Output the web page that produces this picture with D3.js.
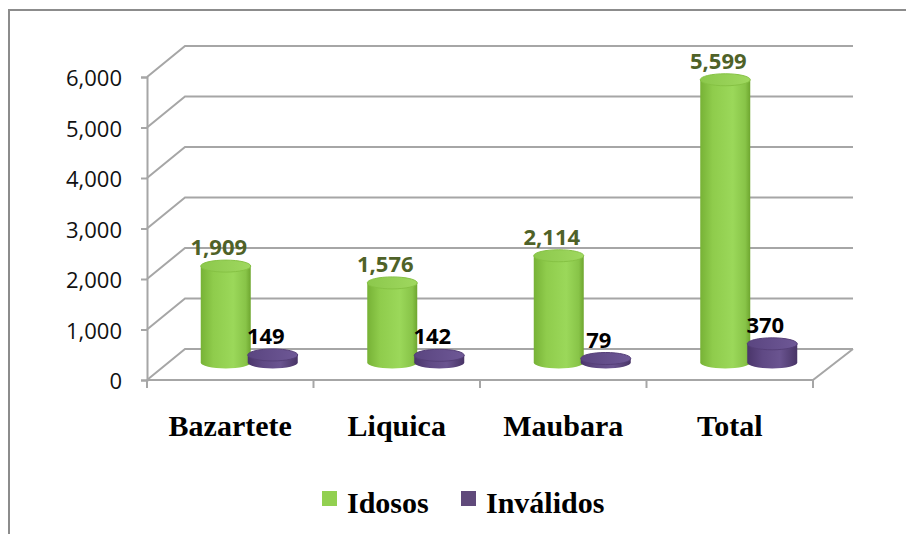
<!DOCTYPE html>
<html>
<head>
<meta charset="utf-8">
<script src="https://cdn.jsdelivr.net/npm/d3@7"></script>
<style>
  body { margin: 0; background: #fff; }
  svg { display: block; }
</style>
</head>
<body>
<div id="chart"></div>
<script>
// chart data
const categories = ["Bazartete", "Liquica", "Maubara", "Total"];
const series = ["Idosos", "Inválidos"];
const idosos = [1909, 1576, 2114, 5599];
const invalidos = [149, 142, 79, 370];
const yTicks = [0, 1000, 2000, 3000, 4000, 5000, 6000];

const width = 906;
const height = 534;
const plot = { left: 147, right: 813, top: 77, bottom: 380 };
const depth = { dx: 38, dy: 31 };   // offset of the back wall
const rx = 25, ry = 6;
const gridColor = "#a6a6a6";

const svg = d3.select("#chart").append("svg")
  .attr("width", width)
  .attr("height", height);

const defs = svg.append("defs");
function gradient(id, stops) {
  const g = defs.append("linearGradient").attr("id", id)
    .attr("x1", "0%").attr("x2", "100%").attr("y1", "0%").attr("y2", "0%");
  stops.forEach(s => g.append("stop").attr("offset", s[0]).attr("stop-color", s[1]));
}
gradient("greenBody", [["0%", "#77b236"], ["25%", "#8fcc4c"], ["65%", "#9bd85a"], ["90%", "#88c448"], ["100%", "#6ea62f"]]);
gradient("greenTop", [["0%", "#8cc84c"], ["100%", "#9fd85f"]]);
gradient("purpleBody", [["0%", "#4a356a"], ["30%", "#5f4984"], ["65%", "#6a5490"], ["100%", "#483466"]]);
gradient("purpleTop", [["0%", "#5a4580"], ["100%", "#6e5896"]]);

// outer border
svg.append("path")
  .attr("d", "M9,534 L9,10 L906,10")
  .attr("fill", "none")
  .attr("stroke", "#8c8c8c")
  .attr("stroke-width", 2);

const y = d3.scaleLinear()
  .domain([0, 6000])
  .range([plot.bottom, plot.top]);

const x = d3.scaleBand()
  .domain(categories)
  .range([plot.left, plot.right]);

const bw = x.bandwidth();
const xs = d3.scaleBand()
  .domain(series)
  .range([bw / 2 - 47, bw / 2 + 47]);

// gridlines on side and back walls
svg.append("g").selectAll("path")
  .data(yTicks)
  .join("path")
  .attr("d", d => `M${plot.left},${y(d)} L${plot.left + depth.dx},${y(d) - depth.dy} L${plot.right + depth.dx + 2},${y(d) - depth.dy}`)
  .attr("fill", "none")
  .attr("stroke", gridColor)
  .attr("stroke-width", 2);

// floor front and right edges
svg.append("path")
  .attr("d", `M${plot.left},${plot.bottom} L${plot.right},${plot.bottom} L${plot.right + depth.dx + 2},${plot.bottom - depth.dy}`)
  .attr("fill", "none")
  .attr("stroke", gridColor)
  .attr("stroke-width", 2);

// y axis
const yAxis = svg.append("g")
  .attr("transform", `translate(${plot.left},0)`)
  .call(d3.axisLeft(y).tickValues(yTicks).tickFormat(d3.format(",")).tickSize(6).tickPadding(19));
yAxis.select(".domain").attr("stroke", gridColor).attr("stroke-width", 2);
yAxis.selectAll(".tick line").attr("stroke", gridColor).attr("stroke-width", 2);
yAxis.selectAll(".tick text")
  .attr("font-family", "'Open Sans', sans-serif")
  .attr("font-size", 22)
  .attr("fill", "#111")
  .attr("dy", "0.4em");

// x axis ticks at category boundaries
const bounds = categories.map(c => x(c)).concat([plot.right]);
svg.append("g").selectAll("line")
  .data(bounds)
  .join("line")
  .attr("x1", d => d).attr("x2", d => d)
  .attr("y1", plot.bottom).attr("y2", plot.bottom + 8)
  .attr("stroke", gridColor)
  .attr("stroke-width", 2);

// category labels
svg.append("g").selectAll("text")
  .data(categories)
  .join("text")
  .attr("x", d => x(d) + bw / 2)
  .attr("y", 436)
  .attr("text-anchor", "middle")
  .attr("font-family", "'Liberation Serif', 'Times New Roman', serif")
  .attr("font-weight", "bold")
  .attr("font-size", 30)
  .text(d => d);

// cylinders, placed half way into the depth
const bars = [];
categories.forEach((c, i) => {
  bars.push({ cat: c, s: series[0], v: idosos[i] });
  bars.push({ cat: c, s: series[1], v: invalidos[i] });
});
const baseY = plot.bottom - depth.dy / 2 - 2;
const cx = d => x(d.cat) + xs(d.s) + xs.bandwidth() / 2 + depth.dx / 2;
const topY = d => baseY - (y(0) - y(d.v));

const g = svg.append("g");
g.selectAll("path.body")
  .data(bars)
  .join("path")
  .attr("class", "body")
  .attr("d", d => `M${cx(d) - rx},${topY(d)} L${cx(d) - rx},${baseY} A${rx},${ry} 0 0 0 ${cx(d) + rx},${baseY} L${cx(d) + rx},${topY(d)} Z`)
  .attr("fill", d => d.s === series[0] ? "url(#greenBody)" : "url(#purpleBody)");

g.selectAll("ellipse.top")
  .data(bars)
  .join("ellipse")
  .attr("class", "top")
  .attr("cx", cx)
  .attr("cy", topY)
  .attr("rx", rx)
  .attr("ry", ry)
  .attr("fill", d => d.s === series[0] ? "url(#greenTop)" : "url(#purpleTop)")
  .attr("stroke", d => d.s === series[0] ? "#86c244" : "#553f78")
  .attr("stroke-width", 1);

// value labels
svg.append("g").selectAll("text")
  .data(bars)
  .join("text")
  .attr("x", d => cx(d) - 7)
  .attr("y", d => topY(d) - ry - 5)
  .attr("text-anchor", "middle")
  .attr("font-family", "'Open Sans', sans-serif")
  .attr("font-weight", "bold")
  .attr("font-size", 22)
  .attr("fill", d => d.s === series[0] ? "#4f6228" : "#000")
  .text(d => d3.format(",")(d.v));

// legend
const legendX = [322, 461];
const legend = svg.append("g").selectAll("g")
  .data(series)
  .join("g")
  .attr("transform", (d, i) => `translate(${legendX[i]},491)`);
legend.append("rect")
  .attr("width", 15)
  .attr("height", 15)
  .attr("fill", (d, i) => i === 0 ? "#92d050" : "#604a7b");
legend.append("text")
  .attr("x", 25)
  .attr("y", 22)
  .attr("font-family", "'Liberation Serif', 'Times New Roman', serif")
  .attr("font-weight", "bold")
  .attr("font-size", 30)
  .text(d => d);
</script>
</body>
</html>
